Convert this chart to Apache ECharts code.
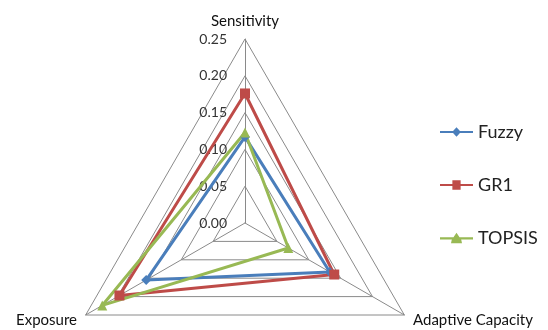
<!DOCTYPE html>
<html><head><meta charset="utf-8">
<script src="https://cdn.jsdelivr.net/npm/echarts@6/dist/echarts.min.js"></script>
<style>html,body{margin:0;padding:0;background:#fff}#c{width:548px;height:330px}</style>
</head><body><div id="c"></div>
<script>
const indicators = ['Sensitivity', 'Exposure', 'Adaptive Capacity'];
const seriesNames = ['Fuzzy', 'GR1', 'TOPSIS'];
const fuzzy = [0.117, 0.155, 0.133];
const gr1 = [0.176, 0.197, 0.140];
const topsis = [0.123, 0.224, 0.068];
const axisMin = 0, axisMax = 0.25, axisStep = 0.05;

const colors = ['#4A7EBB', '#BE4B48', '#98B954'];
const symbols = ['diamond', 'rect', 'triangle'];
const legendIcons = [
  'path://M0,4.2H9.5L12,1.5L14.5,4.2H24V5.8H14.5L12,8.5L9.5,5.8H0Z',
  'path://M0,4.2H9V1.5H15V4.2H24V5.8H15V8.5H9V5.8H0Z',
  'path://M0,4.2H9.8L12,1L14.2,4.2H24V5.8H15.4L16,8.5H8L8.6,5.8H0Z'
];
const values = [fuzzy, gr1, topsis];

const chart = echarts.init(document.getElementById('c'));
chart.setOption({
  animation: false,
  textStyle: { fontFamily: 'Lato' },
  legend: {
    orient: 'vertical', left: 435, top: 118, itemGap: 35,
    itemWidth: 33, itemHeight: 11,
    textStyle: { fontSize: 18, color: '#222', fontFamily: 'Lato' },
    data: seriesNames.map((n, i) => ({ name: n, icon: legendIcons[i] }))
  },
  radar: {
    center: [245, 223], radius: 184, shape: 'polygon', splitNumber: 5,
    nameGap: 10,
    axisName: { color: '#111', fontSize: 15, fontFamily: 'Lato' },
    splitLine: { lineStyle: { color: '#8a8a8a', width: 1 } },
    splitArea: { show: false },
    axisLine: { lineStyle: { color: '#8a8a8a', width: 1 } },
    axisTick: { show: false },
    axisLabel: { show: true, color: '#333', fontSize: 14, padding: [0, 10, 0, 0], formatter: v => Number(v).toFixed(2) },
    indicator: indicators.map((n, i) => ({
      name: n, min: axisMin, max: axisMax, interval: axisStep,
      axisLabel: { show: i === 0 }
    }))
  },
  series: [{
    type: 'radar',
    data: seriesNames.map((n, i) => ({
      name: n, value: values[i], symbol: symbols[i], symbolSize: 10,
      lineStyle: { color: colors[i], width: 3 },
      itemStyle: { color: colors[i] }
    }))
  }]
});
</script></body></html>
